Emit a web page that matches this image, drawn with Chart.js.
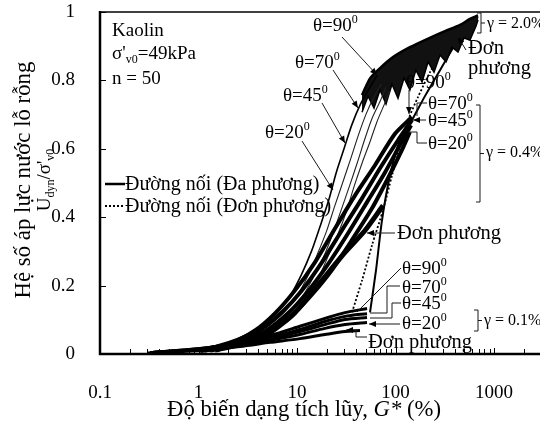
<!DOCTYPE html>
<html><head><meta charset="utf-8">
<script src="https://cdn.jsdelivr.net/npm/chart.js@4.4.0/dist/chart.umd.min.js"></script>
<style>html,body{margin:0;padding:0;background:#fff}#wrap{width:540px;height:421px;position:relative}</style>
</head><body><div id="wrap"><canvas id="c" width="540" height="421"></canvas></div>
<script>
// Axis ticks
const xTicks = [0.1, 1, 10, 100, 1000];
const yTicks = [0, 0.2, 0.4, 0.6, 0.8, 1];

// γ = 2.0 %, multidirectional loading, θ = 90, 70, 45, 20 (G* in %, U/σ'v0)
const g2_t90_G = [0.3,0.8,1.5,2.5,4,6,8.5,11,14,17,21,25,30,36,44,55,65];
const g2_t90_U = [0.005,0.012,0.025,0.045,0.075,0.115,0.17,0.23,0.30,0.37,0.45,0.53,0.60,0.67,0.73,0.78,0.815];
const g2_t70_G = [0.35,0.9,1.7,2.9,4.6,7,10,13,16,20,24,29,35,42,50,60,72];
const g2_t70_U = [0.005,0.012,0.025,0.045,0.075,0.115,0.17,0.23,0.29,0.36,0.43,0.50,0.57,0.64,0.70,0.75,0.79];
const g2_t45_G = [0.4,1,2,3.3,5.3,8,11.5,15,19,23,28,34,41,49,58,70,80];
const g2_t45_U = [0.005,0.012,0.025,0.045,0.075,0.115,0.17,0.23,0.29,0.35,0.42,0.49,0.56,0.63,0.69,0.74,0.78];
const g2_t20_G = [0.45,1.2,2.3,3.8,6,9,13,17,21,26,32,38,46,55,65,77,88];
const g2_t20_U = [0.005,0.012,0.025,0.045,0.075,0.115,0.17,0.23,0.29,0.35,0.42,0.49,0.56,0.62,0.68,0.73,0.77];

// γ = 2.0 %, late cycles: upper envelope and cyclic lower swings
const g2_top_G = [45.7,55.1,69.6,94.3,140,209,318,452,570,688];
const g2_top_U = [0.757,0.806,0.836,0.868,0.897,0.921,0.944,0.962,0.980,0.990];
const g2_low_G = [45.7,52.6,60.5,69.6,80.1,92.1,106,122,140,161,186,214,246,283,326,375,431,496,570,657,688];
const g2_low_U = [0.707,0.754,0.719,0.772,0.731,0.789,0.748,0.807,0.772,0.830,0.795,0.854,0.824,0.874,0.854,0.897,0.883,0.924,0.918,0.959,0.977];

// γ = 0.4 %, multidirectional
const g04_t90_G = [1.04,2.09,3.75,5.98,9.54,15.2,24.3,38.8,61.9,98.8,147];
const g04_t90_U = [0.01,0.031,0.069,0.119,0.186,0.268,0.367,0.464,0.552,0.644,0.693];
const g04_t70_G = [1.16,2.35,4.21,7.04,11.2,17.9,28.6,45.7,69.6,106,147];
const g04_t70_U = [0.01,0.031,0.069,0.122,0.186,0.268,0.362,0.455,0.543,0.625,0.684];
const g04_t45_G = [1.31,2.64,4.73,8.10,12.9,20.6,33.0,51.4,78.2,111,144];
const g04_t45_U = [0.01,0.031,0.066,0.119,0.183,0.262,0.353,0.444,0.531,0.611,0.669];
const g04_t20_G = [1.47,2.97,5.32,9.11,14.5,23.2,37.0,57.7,83.9,116,140];
const g04_t20_U = [0.01,0.031,0.066,0.116,0.177,0.250,0.338,0.426,0.514,0.596,0.649];
// γ = 0.4 %, unidirectional
const g04_uni_G = [1.04,2.64,5.32,9.54,17.1,30.7,49.0,74.7];
const g04_uni_U = [0.01,0.028,0.063,0.121,0.208,0.297,0.361,0.434];

// γ = 0.1 %, multidirectional and unidirectional
const g01_G = [0.322,1.04,2.64,5.32,10.7,19.2,30.7,51.4];
const g01_t90_U = [0.004,0.016,0.034,0.054,0.081,0.104,0.121,0.133];
const g01_t70_U = [0.004,0.016,0.031,0.048,0.072,0.095,0.110,0.118];
const g01_t45_U = [0.004,0.013,0.028,0.045,0.066,0.086,0.101,0.107];
const g01_t20_U = [0.004,0.013,0.025,0.040,0.057,0.075,0.086,0.092];
const g01_uni_G = [0.322,1.04,2.64,5.32,10.7,19.2,30.7,43.6];
const g01_uni_U = [0.004,0.010,0.022,0.034,0.045,0.057,0.066,0.069];

// Connecting lines through the end points (multidirectional / unidirectional)
const joinMulti_G = [55.1,63.4,72.9,87.9,111,147,199,283,452,688];
const joinMulti_U = [0.122,0.245,0.391,0.522,0.625,0.684,0.754,0.830,0.927,0.985];
const joinUni_G = [36.2,45.7,57.7,74.7,92.1,111,134,169,224,318,431,598];
const joinUni_U = [0.122,0.215,0.318,0.421,0.522,0.611,0.684,0.751,0.824,0.897,0.941,0.971];

const pts = (G, U) => G.map((g, i) => ({ x: g, y: U[i] }));
const FONT = '"Liberation Serif", "Times New Roman", serif';

function curve(G, U, width, extra) {
  return Object.assign({
    data: pts(G, U), showLine: true, pointRadius: 0, borderColor: '#000',
    borderWidth: width, tension: 0.25, fill: false
  }, extra || {});
}

const datasets = [
  curve(g01_G, g01_t90_U, 3), curve(g01_G, g01_t70_U, 3),
  curve(g01_G, g01_t45_U, 3), curve(g01_G, g01_t20_U, 3),
  curve(g01_uni_G, g01_uni_U, 3),
  curve(g04_t90_G, g04_t90_U, 4), curve(g04_t70_G, g04_t70_U, 4),
  curve(g04_t45_G, g04_t45_U, 4), curve(g04_t20_G, g04_t20_U, 4),
  curve(g04_uni_G, g04_uni_U, 5),
  curve(g2_t90_G, g2_t90_U, 1.6), curve(g2_t70_G, g2_t70_U, 1.1, { borderColor: '#222' }),
  curve(g2_t45_G, g2_t45_U, 1.1, { borderColor: '#222' }), curve(g2_t20_G, g2_t20_U, 1.1, { borderColor: '#222' }),
  curve(g2_top_G, g2_top_U, 2.5),
  curve(g2_low_G, g2_low_U, 1.5, { tension: 0, fill: '-1', backgroundColor: '#111' }),
  curve(joinMulti_G, joinMulti_U, 2),
  curve(joinUni_G, joinUni_U, 1.8, { borderDash: [2, 2] })
];

// Text runs with sub/superscripts and italics
function fontFor(k, size) {
  const s = (k === 'sub' || k === 'sup') ? Math.round(size * 0.65) : size;
  return (k === 'it' ? 'italic ' : '') + s + 'px ' + FONT;
}
function runWidth(ctx, parts, size) {
  let w = 0;
  for (const [t, k] of parts) { ctx.font = fontFor(k, size); w += ctx.measureText(t).width; }
  return w;
}
function drawRun(ctx, x, y, parts, size, align) {
  let cx = align === 'center' ? x - runWidth(ctx, parts, size) / 2 : x;
  ctx.textAlign = 'left'; ctx.textBaseline = 'alphabetic';
  for (const [t, k] of parts) {
    ctx.font = fontFor(k, size);
    const dy = k === 'sup' ? -size * 0.4 : k === 'sub' ? size * 0.22 : 0;
    ctx.fillText(t, cx, y + dy);
    cx += ctx.measureText(t).width;
  }
}
function poly(ctx, p, arrow, w) {
  ctx.beginPath(); ctx.moveTo(p[0][0], p[0][1]);
  for (let i = 1; i < p.length; i++) ctx.lineTo(p[i][0], p[i][1]);
  ctx.lineWidth = w || 1; ctx.stroke();
  if (arrow) {
    const [x1, y1] = p[p.length - 2], [x2, y2] = p[p.length - 1];
    const a = Math.atan2(y2 - y1, x2 - x1), L = 7, H = 3;
    ctx.beginPath(); ctx.moveTo(x2, y2);
    ctx.lineTo(x2 - L * Math.cos(a) + H * Math.sin(a), y2 - L * Math.sin(a) - H * Math.cos(a));
    ctx.lineTo(x2 - L * Math.cos(a) - H * Math.sin(a), y2 - L * Math.sin(a) + H * Math.cos(a));
    ctx.closePath(); ctx.fill();
  }
}
const th = d => [['θ=' + d], ['0', 'sup']];
const notes = [
  { p: [['Kaolin']], x: 112, y: 36, s: 19 },
  { p: [["σ'"], ['v0', 'sub'], ['=49kPa']], x: 112, y: 59, s: 19 },
  { p: [['n = 50']], x: 112, y: 84, s: 19 },
  { p: th(90), x: 313, y: 31, s: 19 }, { p: th(70), x: 295, y: 68, s: 19 },
  { p: th(45), x: 283, y: 101, s: 19 }, { p: th(20), x: 265, y: 138, s: 19 },
  { p: [['Đơn']], x: 468, y: 54, s: 20.5 }, { p: [['phương']], x: 468, y: 74, s: 20.5 },
  { p: th(90), x: 406, y: 88, s: 19 }, { p: th(70), x: 428, y: 109, s: 19 },
  { p: th(45), x: 428, y: 126, s: 19 }, { p: th(20), x: 428, y: 149, s: 19 },
  { p: [['Đơn phương']], x: 397, y: 239, s: 20.5 },
  { p: th(90), x: 402, y: 274, s: 19 }, { p: th(70), x: 402, y: 293, s: 19 },
  { p: th(45), x: 402, y: 309, s: 19 }, { p: th(20), x: 402, y: 329, s: 19 },
  { p: [['Đơn phương']], x: 368, y: 348, s: 20.5 },
  { p: [['Đường nối (Đa phương)']], x: 125, y: 190, s: 20 },
  { p: [['Đường nối (Đơn phương)']], x: 125, y: 212, s: 20 }
];
const gammaNotes = [
  { t: 'γ = 2.0%', x: 487, y: 28, top: 13, bot: 33 },
  { t: 'γ = 0.4%', x: 486, y: 157, top: 105, bot: 202 },
  { t: 'γ = 0.1%', x: 484, y: 325, top: 310, bot: 331 }
];
const leaders = [
  { p: [[342, 37], [377, 75]], a: true }, { p: [[333, 70], [358, 108]], a: true },
  { p: [[322, 103], [345, 143]], a: true }, { p: [[302, 141], [333, 190]], a: true },
  { p: [[466, 50], [458, 37]], a: true },
  { p: [[409, 90], [409, 114]], a: true },
  { p: [[427, 103], [417, 103], [417, 116]], a: false },
  { p: [[426, 120], [413, 120]], a: true },
  { p: [[427, 143], [417, 143], [417, 132], [408, 132]], a: false },
  { p: [[395, 233], [367, 233]], a: true },
  { p: [[401, 268], [357, 312]], a: false },
  { p: [[400, 286], [387, 286], [387, 313], [370, 313]], a: false },
  { p: [[401, 303], [392, 303], [392, 318], [370, 318]], a: false },
  { p: [[400, 324], [369, 324]], a: true },
  { p: [[367, 337], [356, 337], [356, 330], [346, 330]], a: true }
];

const decor = {
  id: 'decor',
  afterDatasetsDraw(chart) {
    const { ctx, chartArea: a, scales: { x, y } } = chart;
    ctx.save();
    ctx.strokeStyle = '#000'; ctx.fillStyle = '#000';
    // frame: top edge, left and bottom axes
    ctx.lineWidth = 1.5;
    ctx.beginPath(); ctx.moveTo(a.left, a.top); ctx.lineTo(a.right, a.top); ctx.stroke();
    ctx.lineWidth = 2.5;
    ctx.beginPath(); ctx.moveTo(a.left, a.top - 1); ctx.lineTo(a.left, a.bottom); ctx.lineTo(a.right, a.bottom); ctx.stroke();
    // inward tick marks
    ctx.lineWidth = 1;
    for (const v of yTicks) {
      const py = Math.round(y.getPixelForValue(v)) + 0.5;
      ctx.beginPath(); ctx.moveTo(a.left, py); ctx.lineTo(a.left + 6, py); ctx.stroke();
    }
    for (let d = 0.1; d < 5000; d *= 10) {
      for (let m = 1; m < 10; m++) {
        const v = d * m;
        if (v > x.max) break;
        const px = Math.round(x.getPixelForValue(v)) + 0.5;
        ctx.beginPath(); ctx.moveTo(px, a.bottom); ctx.lineTo(px, a.bottom - (m === 1 ? 6 : 5)); ctx.stroke();
      }
    }
    ctx.restore();
  },
  afterDraw(chart) {
    const { ctx } = chart;
    ctx.save();
    ctx.fillStyle = '#000'; ctx.strokeStyle = '#1a1a1a';
    for (const l of leaders) poly(ctx, l.p, l.a, 1);
    for (const n of notes) drawRun(ctx, n.x, n.y, n.p, n.s);
    for (const g of gammaNotes) {
      ctx.lineWidth = 1;
      ctx.beginPath();
      ctx.moveTo(g.x - 10, g.top); ctx.lineTo(g.x - 6, g.top); ctx.lineTo(g.x - 6, g.bot); ctx.lineTo(g.x - 10, g.bot);
      const mid = (g.top + g.bot) / 2;
      ctx.moveTo(g.x - 6, mid); ctx.lineTo(g.x - 2, mid);
      ctx.stroke();
      drawRun(ctx, g.x, g.y, [[g.t]], 16);
    }
    // legend keys
    ctx.strokeStyle = '#000';
    ctx.lineWidth = 2.5;
    ctx.beginPath(); ctx.moveTo(105, 184); ctx.lineTo(125, 184); ctx.stroke();
    ctx.lineWidth = 2; ctx.setLineDash([2, 2]);
    ctx.beginPath(); ctx.moveTo(105, 206); ctx.lineTo(125, 206); ctx.stroke();
    ctx.setLineDash([]);
    // axis titles
    drawRun(ctx, 304, 416, [['Độ biến dạng tích lũy, '], ['G*', 'it'], [' (%)']], 22.7, 'center');
    ctx.translate(30, 180); ctx.rotate(-Math.PI / 2);
    drawRun(ctx, 0, 0, [['Hệ số áp lực nước lỗ rỗng']], 22.8, 'center');
    drawRun(ctx, 0, 20, [['U'], ['dyn', 'sub'], ["/σ'"], ['v0', 'sub']], 19, 'center');
    ctx.restore();
  }
};

new Chart(document.getElementById('c'), {
  type: 'scatter',
  data: { datasets },
  options: {
    responsive: false, animation: false, devicePixelRatio: 1,
    layout: { padding: { top: 12, right: 0, left: 0, bottom: 0 } },
    plugins: { legend: { display: false }, tooltip: { enabled: false } },
    scales: {
      x: {
        type: 'logarithmic', min: 0.1, max: 2930,
        afterBuildTicks: s => { s.ticks = xTicks.map(v => ({ value: v })); },
        afterFit: s => { s.height = 67; s.paddingLeft = 0; s.paddingRight = 0; },
        ticks: { callback: v => String(v), font: { family: FONT, size: 19 }, color: '#000', padding: 20, maxRotation: 0, autoSkip: false },
        grid: { display: false }, border: { display: false }
      },
      y: {
        min: 0, max: 1,
        afterBuildTicks: s => { s.ticks = yTicks.map(v => ({ value: v })); },
        afterFit: s => { s.width = 100; s.paddingTop = 0; s.paddingBottom = 0; },
        ticks: { callback: v => String(v), font: { family: FONT, size: 19 }, color: '#000', padding: 17 },
        grid: { display: false }, border: { display: false }
      }
    }
  },
  plugins: [decor]
});
</script></body></html>
